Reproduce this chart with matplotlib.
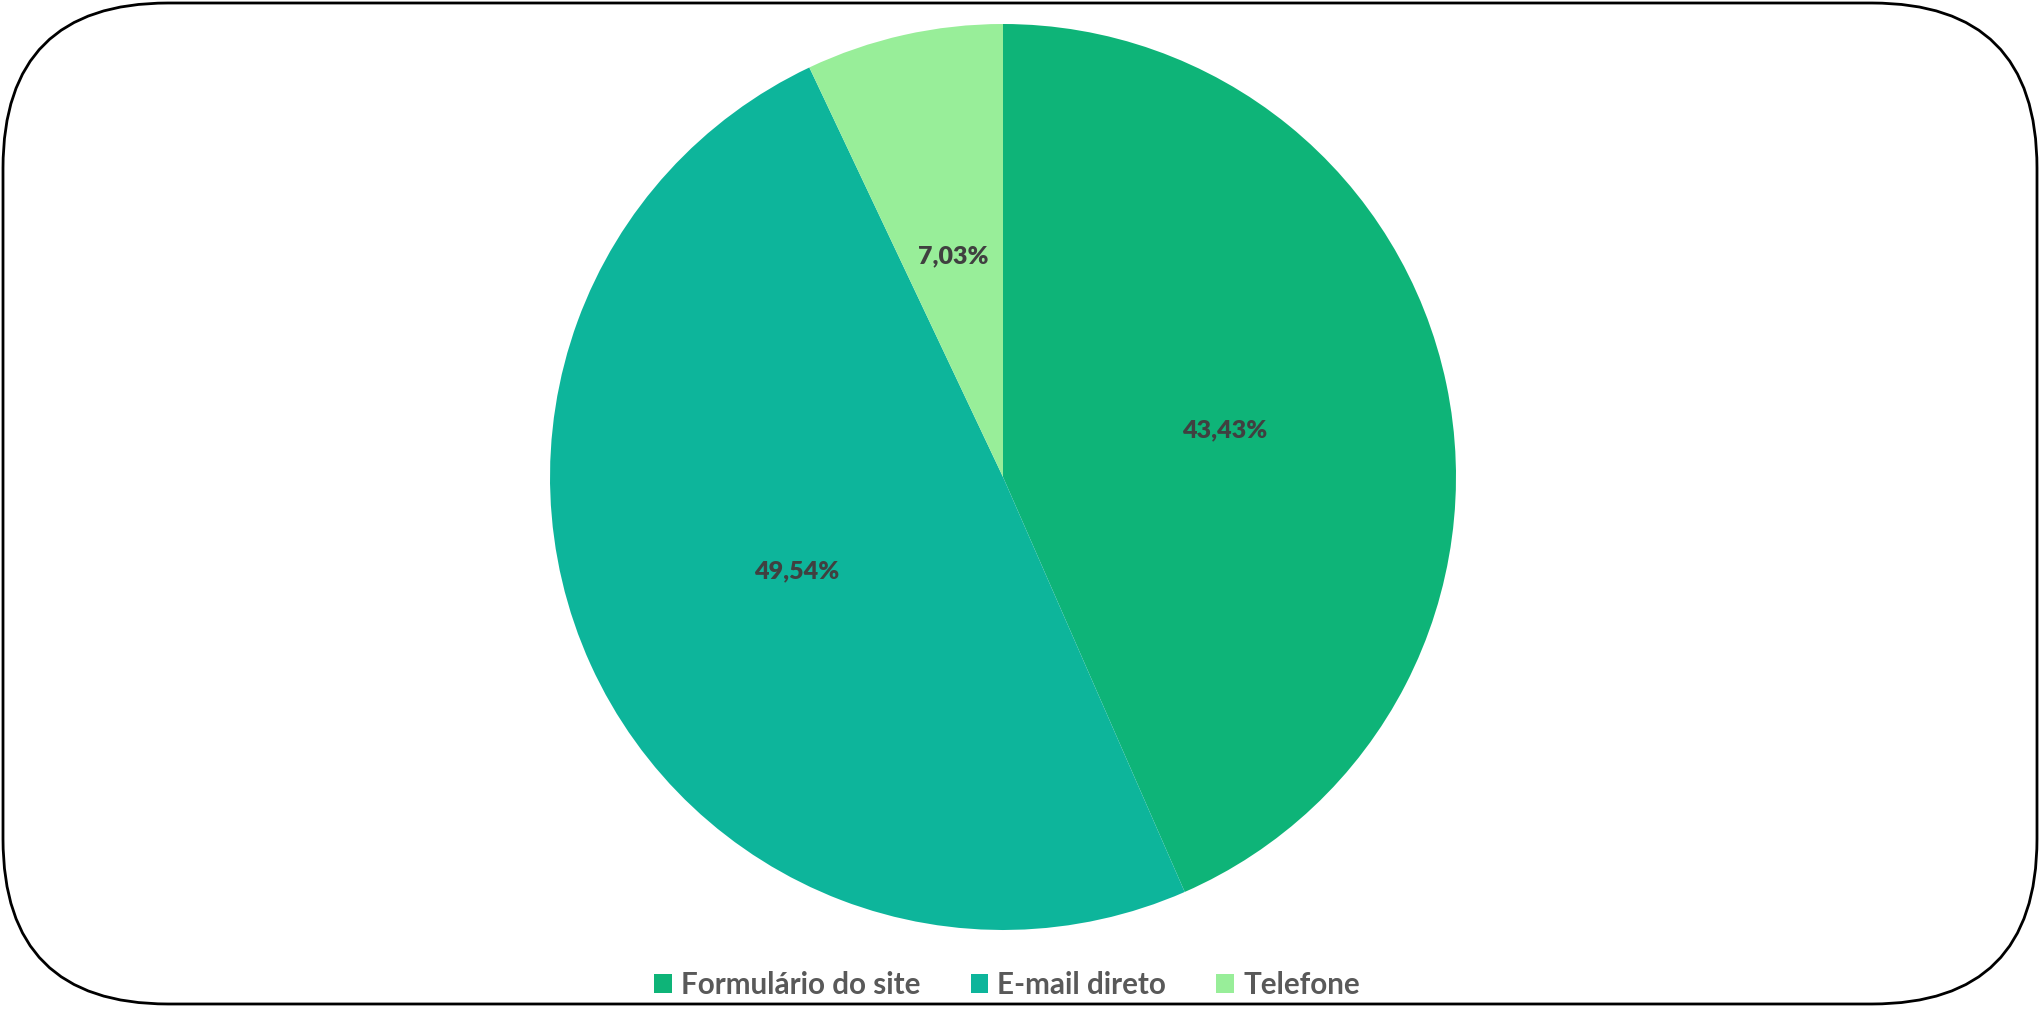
import matplotlib
matplotlib.use('Agg')
import matplotlib.pyplot as plt
from matplotlib.patches import FancyBboxPatch
from matplotlib.font_manager import FontProperties

# channel shares (%)
labels = ['Formulário do site', 'E-mail direto', 'Telefone']
shares = [43.43, 49.54, 7.03]
colors = ['#0EB478', '#0DB59B', '#98EE99']

W, H = 2040, 1010
fig = plt.figure(figsize=(W / 100, H / 100), dpi=100)
ax = fig.add_axes([0, 0, 1, 1])

pct_font = FontProperties(family='Lato', weight='heavy', size=18)

wedges, texts, autotexts = ax.pie(
    shares, colors=colors, startangle=90, counterclock=False,
    center=(1003, H - 477), radius=453, pctdistance=0.5,
    autopct=lambda p: f'{p:.2f}%'.replace('.', ','),
    wedgeprops=dict(linewidth=0))
for w in wedges:
    w.set_zorder(2)
for t in autotexts:
    t.set_fontproperties(pct_font)
    t.set_color('#404040')
    t.set_zorder(3)

# pie() resets the limits, so set pixel coordinates afterwards
ax.set_xlim(0, W)
ax.set_ylim(0, H)
ax.set_aspect('equal')
ax.axis('off')

# rounded frame around the chart
frame = FancyBboxPatch((3, 6), W - 6, H - 9,
                       boxstyle='round,pad=0,rounding_size=165',
                       facecolor='white', edgecolor='black', linewidth=2.0, zorder=0)
ax.add_patch(frame)

leg = ax.legend(wedges, labels, loc='center', bbox_to_anchor=(1007 / W, (H - 985) / H),
                ncol=3, frameon=False, handlelength=0.6, handleheight=0.6,
                handletextpad=0.3, columnspacing=1.7,
                prop=dict(family='Lato', weight='bold', size=21.3))
for t in leg.get_texts():
    t.set_color('#595959')

fig.savefig('out.png', dpi=100)
